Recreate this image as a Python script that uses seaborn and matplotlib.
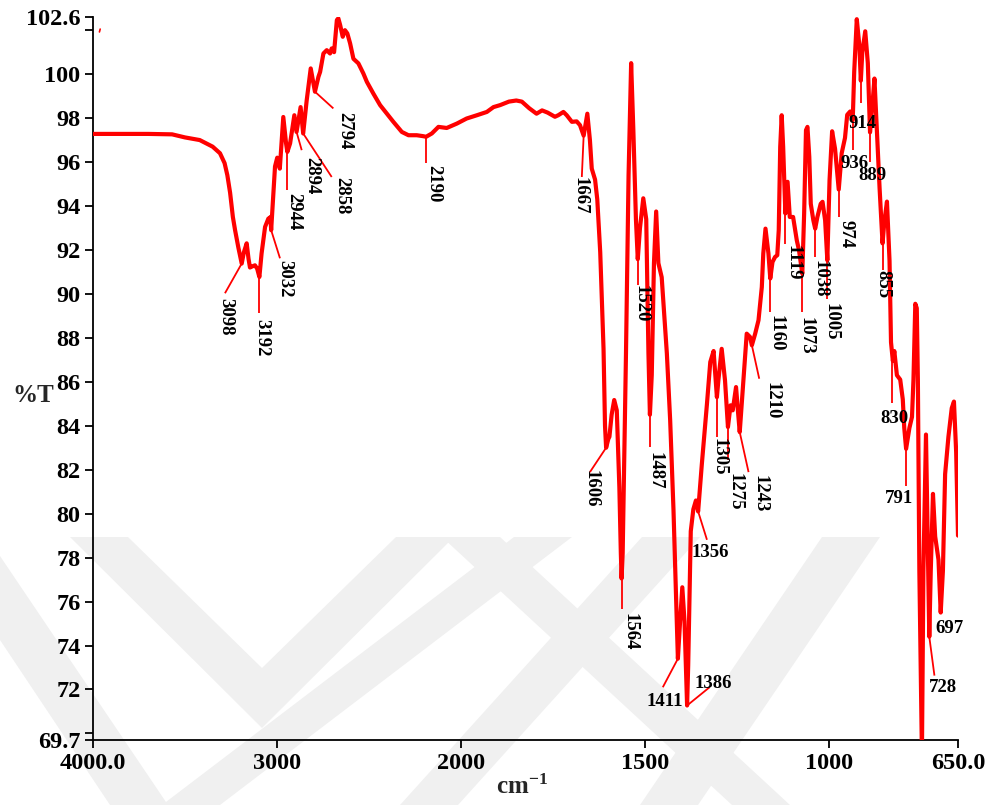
import numpy as np
import pandas as pd
import matplotlib
matplotlib.use("Agg")
import matplotlib.pyplot as plt
from matplotlib.patches import Polygon
import seaborn as sns

# ---- spectrum: wavenumber (cm-1) and transmittance (%T) ----
wavenumber = [
    4000, 3700, 3570, 3500, 3420, 3350, 3310, 3285, 3270, 3255, 3240, 3228, 3210,
    3192, 3180, 3165, 3155, 3147, 3135, 3120, 3108, 3096, 3084, 3065, 3047, 3040,
    3036, 3032, 3011, 2999, 2985, 2966, 2951, 2944, 2929, 2906, 2894, 2872, 2858,
    2839, 2817, 2794, 2775, 2766, 2748, 2730, 2712, 2703, 2690, 2675, 2667, 2657,
    2643, 2631, 2618, 2603, 2585, 2558, 2531, 2512, 2477, 2440, 2404, 2368, 2322,
    2286, 2241, 2208, 2190, 2159, 2123, 2078, 2023, 1985, 1957, 1930, 1912, 1894,
    1870, 1850, 1835, 1815, 1795, 1780, 1765, 1745, 1736, 1722, 1713, 1699, 1686,
    1677, 1667, 1657, 1650, 1645, 1636, 1630, 1622, 1613, 1609, 1606, 1600, 1597,
    1591, 1584, 1577, 1570, 1566, 1564, 1561, 1552, 1545, 1538, 1532, 1525, 1520,
    1514, 1505, 1497, 1491, 1487, 1482, 1476, 1470, 1464, 1455, 1441, 1432, 1423,
    1414, 1411, 1405, 1399, 1393, 1386, 1383, 1376, 1369, 1362, 1356, 1346, 1332,
    1323, 1314, 1305, 1301, 1292, 1283, 1275, 1268, 1262, 1253, 1248, 1243, 1233,
    1224, 1215, 1210, 1201, 1192, 1183, 1179, 1173, 1165, 1160, 1154, 1147, 1141,
    1137, 1133, 1129, 1125, 1119, 1113, 1107, 1098, 1088, 1082, 1073, 1068, 1063,
    1059, 1054, 1050, 1043, 1038, 1032, 1023, 1018, 1011, 1005, 999, 992, 984,
    974, 966, 957, 951, 943, 936, 932, 925, 918, 914, 910, 902, 895, 889, 883,
    877, 870, 863, 855, 850, 843, 836, 832, 827, 823, 816, 807, 800, 796, 791,
    782, 775, 771, 766, 762, 759, 755, 748, 744, 737, 733, 728, 724, 718, 712,
    703, 697, 691, 685, 676, 667, 661, 655, 650,
]
transmittance = [
    97.28, 97.28, 97.26, 97.12, 97.0, 96.7, 96.4, 95.95, 95.4, 94.6, 93.5, 92.9, 92.1,
    91.38, 91.9, 92.3, 91.6, 91.2, 91.25, 91.3, 91.15, 90.77, 91.84, 93.05, 93.43, 93.35,
    93.5, 92.9, 95.8, 96.2, 95.7, 98.05, 96.85, 96.46, 96.85, 98.13, 97.37, 98.5, 97.3,
    98.8, 100.26, 99.2, 99.88, 100.1, 100.94, 101.09, 100.94, 101.17, 101.0, 102.46, 102.54, 102.23,
    101.7, 102.0, 101.85, 101.4, 100.7, 100.49, 100.03, 99.65, 99.12, 98.59, 98.21, 97.83, 97.37,
    97.22, 97.22, 97.18, 97.15, 97.3, 97.6, 97.55, 97.75, 97.98, 98.13, 98.28, 98.5, 98.59,
    98.75, 98.8, 98.75, 98.45, 98.2, 98.35, 98.25, 98.06, 98.13, 98.28, 98.13, 97.83, 97.85,
    97.68, 97.2, 98.2, 97.0, 95.7, 95.2, 94.3, 91.9, 87.5, 84.0, 83.0, 83.4, 83.5,
    84.5, 85.17, 84.7, 81.2, 78.2, 77.05, 78.2, 87.3, 95.4, 100.5, 97.45, 93.4, 91.58,
    93.0, 94.35, 93.4, 87.3, 84.5, 86.3, 91.4, 93.75, 91.4, 90.76, 87.3, 84.26, 80.2,
    75.1, 73.4, 75.1, 76.65, 75.1, 71.27, 73.1, 79.2, 80.2, 80.6, 80.1, 82.24, 85.0,
    86.9, 87.4, 85.3, 86.07, 87.5, 86.07, 83.94, 84.93, 84.7, 85.76, 84.7, 83.71, 86.07,
    88.19, 88.04, 87.66, 88.19, 88.8, 90.31, 91.84, 92.97, 91.84, 90.7, 91.45, 91.68, 91.76,
    92.9, 96.69, 98.13, 96.69, 93.66, 95.1, 93.5, 93.5, 92.44, 91.99, 90.92, 93.66, 97.45,
    97.6, 96.23, 94.1, 93.35, 92.97, 93.5, 94.1, 94.19, 93.35, 91.53, 95.17, 97.4, 96.6,
    94.75, 96.4, 97.1, 98.15, 98.3, 97.9, 100.1, 102.5, 101.3, 99.7, 101.0, 101.95, 100.5, 97.35, 98.5,
    99.8, 97.3, 94.8, 92.3, 93.3, 94.2, 91.5, 87.8, 86.95, 87.4, 86.3, 86.1, 85.2, 83.9, 82.95,
    83.9, 84.4, 86.1, 89.55, 89.35, 86.1, 77.4, 69.0, 77.4, 83.6, 79.6, 74.4, 77.4, 80.9, 78.96,
    77.9, 75.5, 77.4, 81.8, 83.5, 84.8, 85.1, 82.8, 79.0,
]

# ---- peak labels and the wavenumber each leader points at ----
peak_text = ["3098", "3192", "3032", "2944", "2894", "2858", "2794", "2190",
             "1667", "1520", "1606", "1564", "1487", "1411", "1386", "1356",
             "1305", "1275", "1243", "1210", "1160", "1119", "1073", "1038",
             "1005", "974", "936", "914", "889", "855", "830", "791", "728", "697"]
peak_wn = [3192, 3096, 3032, 2944, 2894, 2858, 2794, 2190,
           1667, 1520, 1606, 1564, 1487, 1411, 1386, 1356,
           1305, 1275, 1243, 1210, 1160, 1119, 1073, 1038,
           1005, 974, 936, 914, 889, 855, 830, 791, 728, 697]

# label layout: leader end (wn, %T), text anchor (wn, %T), vertical text?
label_layout = [
    ((3283, 90.03), (3277, 89.80), True),
    ((3096, 89.12), (3081, 88.85), True),
    ((2984, 91.62), (2956, 91.53), True),
    ((2944, 94.72), (2910, 94.58), True),
    ((2866, 96.54), (2812, 96.22), True),
    ((2703, 95.32), (2649, 95.31), True),
    ((2694, 98.44), (2633, 98.27), True),
    ((2190, 95.95), (2150, 95.86), True),
    ((1672, 95.32), (1678, 95.31), True),
    ((1520, 90.39), (1511, 90.39), True),
    ((1650, 81.89), (1648, 81.97), True),
    ((1564, 75.67), (1542, 75.50), True),
    ((1487, 83.03), (1473, 82.79), True),
    ((1452, 72.10), (1446, 71.47), False),
    ((1325, 72.10), (1314, 72.29), False),
    ((1332, 78.81), (1322, 78.21), False),
    ((1305, 83.48), (1298, 83.42), True),
    ((1275, 82.42), (1255, 81.83), True),
    ((1219, 81.89), (1188, 81.74), True),
    ((1190, 86.14), (1154, 85.97), True),
    ((1160, 89.18), (1145, 89.03), True),
    ((1119, 92.29), (1099, 92.21), True),
    ((1073, 89.18), (1064, 88.93), True),
    ((1038, 91.68), (1026, 91.53), True),
    ((1005, 89.79), (996, 89.57), True),
    ((974, 93.50), (953, 93.35), True),
    ((936, 96.54), (931, 95.92), False),
    ((914, 98.67), (909, 97.75), False),
    ((889, 96.00), (882, 95.38), False),
    ((855, 91.07), (853, 91.07), True),
    ((830, 85.02), (824, 84.31), False),
    ((791, 81.24), (809, 80.68), False),
    ((714, 72.63), (690, 72.11), False),
    (None, (674, 74.76), False),
]

x_ticks = [4000, 3000, 2000, 1500, 1000, 650]
x_tick_labels = ["4000.0", "3000", "2000", "1500", "1000", "650.0"]
y_ticks = [69.7, 70, 72, 74, 76, 78, 80, 82, 84, 86, 88, 90, 92, 94, 96, 98, 100, 102, 102.6]
y_tick_labels = ["69.7", "", "72", "74", "76", "78", "80", "82", "84", "86", "88",
                 "90", "92", "94", "96", "98", "100", "", "102.6"]

# ---- style ----
sns.set_style("ticks")
plt.rcParams["font.family"] = ["Liberation Serif", "DejaVu Serif"]
plt.rcParams["font.weight"] = "bold"
plt.rcParams["mathtext.fontset"] = "custom"
plt.rcParams["mathtext.rm"] = "Liberation Serif:bold"
plt.rcParams["mathtext.it"] = "Liberation Serif:bold"
plt.rcParams["mathtext.bf"] = "Liberation Serif:bold"

W, H = 993, 805
fig = plt.figure(figsize=(W / 100, H / 100), dpi=100)
fig.patch.set_facecolor("white")

# faint background emblem made of chevron bands (behind everything)
bg = fig.add_axes([0, 0, 1, 1], zorder=-1)
bg.set_xlim(0, W)
bg.set_ylim(H, 0)
bg.axis("off")
band_color = "#f0f0f0"
emblem = [
    [(70, 537), (128, 537), (262, 668), (396, 537), (454, 537), (262, 728)],
    [(0, 556), (0, 640), (110, 805), (168, 805)],
    [(162, 805), (220, 805), (572, 537), (514, 537)],
    [(442, 537), (500, 537), (790, 805), (732, 805)],
    [(400, 805), (458, 805), (700, 537), (642, 537)],
    [(640, 805), (698, 805), (880, 537), (822, 537)],
]
for poly in emblem:
    bg.add_patch(Polygon(poly, closed=True, facecolor=band_color, edgecolor="none"))

ax = fig.add_axes([93 / W, 1 - 740 / H, (958 - 93) / W, (740 - 17) / H], zorder=1)
ax.set_facecolor("none")

# compressed scale above 2000 cm-1 (half the spacing)
def fwd(x):
    x = np.asarray(x, dtype=float)
    return np.where(x > 2000, 2000 + (x - 2000) / 2.0, x)

def inv(y):
    y = np.asarray(y, dtype=float)
    return np.where(y > 2000, 2000 + (y - 2000) * 2.0, y)

ax.set_xscale("function", functions=(fwd, inv))

df = pd.DataFrame({"wavenumber": wavenumber, "T": transmittance})
sns.lineplot(data=df, x="wavenumber", y="T", sort=False, estimator=None,
             color="#ff0000", linewidth=3.0, ax=ax, zorder=3)

ax.set_xlim(4000, 650)
ax.set_ylim(69.7, 102.6)

# peak leaders and labels
wn_sorted = np.array(wavenumber[::-1], dtype=float)
t_sorted = np.array(transmittance[::-1], dtype=float)
for text, wn, (leader_end, txt_pos, vertical) in zip(peak_text, peak_wn, label_layout):
    t0 = float(np.interp(wn, wn_sorted, t_sorted))
    if leader_end is not None:
        ax.plot([wn, leader_end[0]], [t0, leader_end[1]], color="#ff0000",
                linewidth=1.3, zorder=2, solid_capstyle="butt")
    if vertical:
        ax.text(txt_pos[0], txt_pos[1], text, rotation=-90, ha="center", va="top",
                fontsize=13.5, fontweight="bold", color="black", zorder=4)
    else:
        ax.text(txt_pos[0], txt_pos[1], text, ha="center", va="center",
                fontsize=13.5, fontweight="bold", color="black", zorder=4)

# small stray stroke near the top-left corner
ax.plot([3965, 3961], [101.92, 102.05], color="#ff0000", linewidth=1.2)

ax.set_xticks(x_ticks)
ax.set_xticklabels(x_tick_labels)
ax.set_yticks(y_ticks)
ax.set_yticklabels(y_tick_labels)
ax.minorticks_off()
ax.tick_params(axis="both", direction="out", length=6, width=1.3, colors="black",
               labelsize=17.5, pad=3)
for lab in ax.get_xticklabels() + ax.get_yticklabels():
    lab.set_fontweight("bold")

for side in ("top", "right"):
    ax.spines[side].set_visible(False)
for side in ("left", "bottom"):
    ax.spines[side].set_linewidth(1.3)
    ax.spines[side].set_color("black")

ax.set_xlabel("")
ax.set_ylabel("")
fig.text(33 / W, 1 - 395 / H, "%T", ha="center", va="center",
         fontsize=18, fontweight="bold")
fig.text(522 / W, 1 - 787 / H, "cm$^{-1}$", ha="center", va="center",
         fontsize=18, fontweight="bold")

fig.savefig("out.png", dpi=100, facecolor="white")
